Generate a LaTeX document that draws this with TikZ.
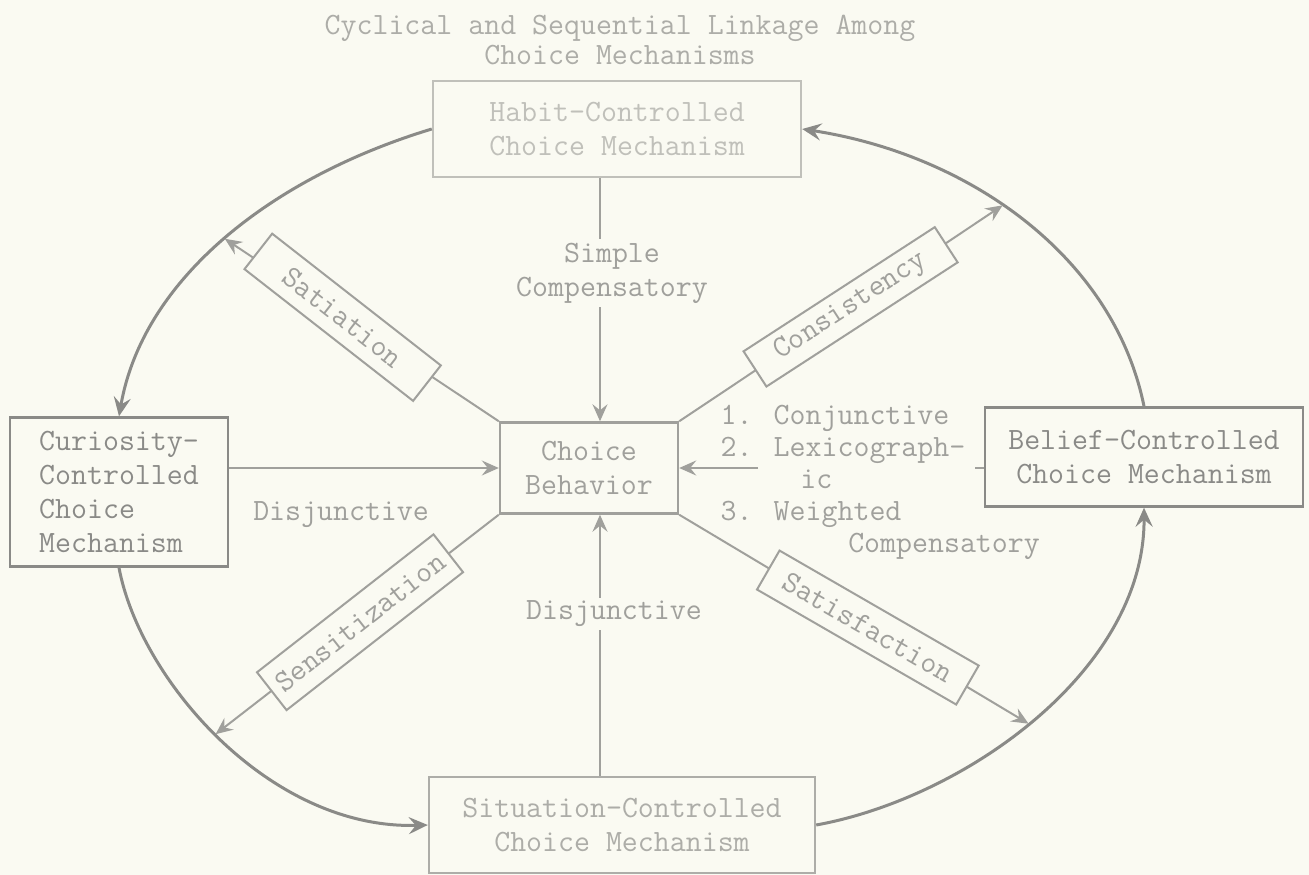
\documentclass[tikz,border=0pt]{standalone}
\usepackage{fontspec}
\usepackage{tikz}
\usetikzlibrary{arrows.meta}

\definecolor{paper}{RGB}{250,250,242}
\definecolor{ink}{RGB}{138,138,135}
\definecolor{mid}{RGB}{160,160,156}
\definecolor{pale}{RGB}{192,192,186}

\begin{document}
\begin{tikzpicture}[x=1pt,y=-1pt,
	txt/.style={font=\fontsize{31}{34}\selectfont\ttfamily,text=mid,align=center},
	mech/.style={txt,shape=rectangle,draw=ink,line width=2.4pt,fill=paper,inner sep=6pt},
	tilt/.style={txt,shape=rectangle,draw=mid,line width=2pt,fill=paper,inner sep=2pt,minimum height=45},
	link/.style={draw=mid,line width=2pt},
	arr/.style={link,-{Stealth[length=17pt,width=15pt,inset=6pt]}},
	cyc/.style={draw=ink,line width=3pt,-{Stealth[length=19pt,width=17pt,inset=7pt]}}]

	\path[use as bounding box,fill=paper] (0,0) rectangle (1309,875);

	\node[txt,text=mid!60!pale,font=\fontsize{31}{30}\selectfont\ttfamily] (title) at (620,40) {Cyclical and Sequential Linkage Among\\Choice Mechanisms};

	\node[mech,draw=pale,text=pale,minimum width=368,minimum height=96] (habit)  at (617,129) {Habit-Controlled\\Choice Mechanism};
	\node[mech,text=ink,align=left,minimum width=218,minimum height=149]  (curio)  at (119,492) {Curiosity-\\Controlled\\Choice\\Mechanism};
	\node[mech,text=ink,minimum width=318,minimum height=99]              (belief) at (1144,457) {Belief-Controlled\\Choice Mechanism};
	\node[mech,draw=mid!60!pale,text=mid!60!pale,minimum width=386,minimum height=96] (situ) at (622,825) {Situation-Controlled\\Choice Mechanism};
	\node[mech,draw=mid,minimum width=178,minimum height=91]              (choice) at (589,468) {Choice\\Behavior};

	\draw[cyc] (habit.west)   .. controls (273,177) and (143,278)  .. coordinate[pos=.5] (satA)   (curio.north);
	\draw[cyc] (curio.south)  .. controls (140,680) and (270,830)  .. coordinate[pos=.48] (sensA) (situ.west);
	\draw[cyc] (situ.east)    .. controls (965,798) and (1145,670) .. coordinate[pos=.48] (satfA) (belief.south);
	\draw[cyc] (belief.north) .. controls (1114,258) and (971,155) .. coordinate[pos=.56] (conA)  (habit.east);

	\coordinate (vx) at (600,468);
	\coordinate (gapL) at (758,468);
	\coordinate (gapR) at (975,468);

	\draw[arr] (habit.south -| vx) -- node[txt,fill=paper,pos=.39,xshift=12] {Simple\\Compensatory} (choice.north -| vx);
	\draw[arr] (situ.north -| vx) -- node[txt,fill=paper,pos=.62,xshift=14] {Disjunctive} (choice.south -| vx);
	\draw[arr] (curio.east |- choice.west) -- node[txt,pos=.415,yshift=-47] {Disjunctive} (choice.west);
	\draw[link] (belief.west |- choice.east) -- (gapR);
	\draw[arr] (gapL) -- (choice.east);
	\node[txt,align=left,anchor=west,font=\fontsize{31}{32}\selectfont\ttfamily] (rules) at (717,482) {1. Conjunctive\\2. Lexicograph-\\\hphantom{xxxxx}ic\\3. Weighted\\\hphantom{xxxxxxxx}Compensatory};

	\draw[arr] (choice.north west) -- node[tilt,pos=.57,rotate=-38,minimum width=214] {Satiation} (satA);
	\draw[arr] (choice.north east) -- node[tilt,pos=.53,rotate=33,minimum width=228,minimum height=42] {Consistency} (conA);
	\draw[arr] (choice.south east) -- node[tilt,pos=.54,rotate=-30,minimum width=230] {Satisfaction} (satfA);
	\draw[arr] (choice.south west) -- node[tilt,pos=.49,rotate=38,minimum width=224,minimum height=48] {Sensitization} (sensA);
\end{tikzpicture}
\end{document}
